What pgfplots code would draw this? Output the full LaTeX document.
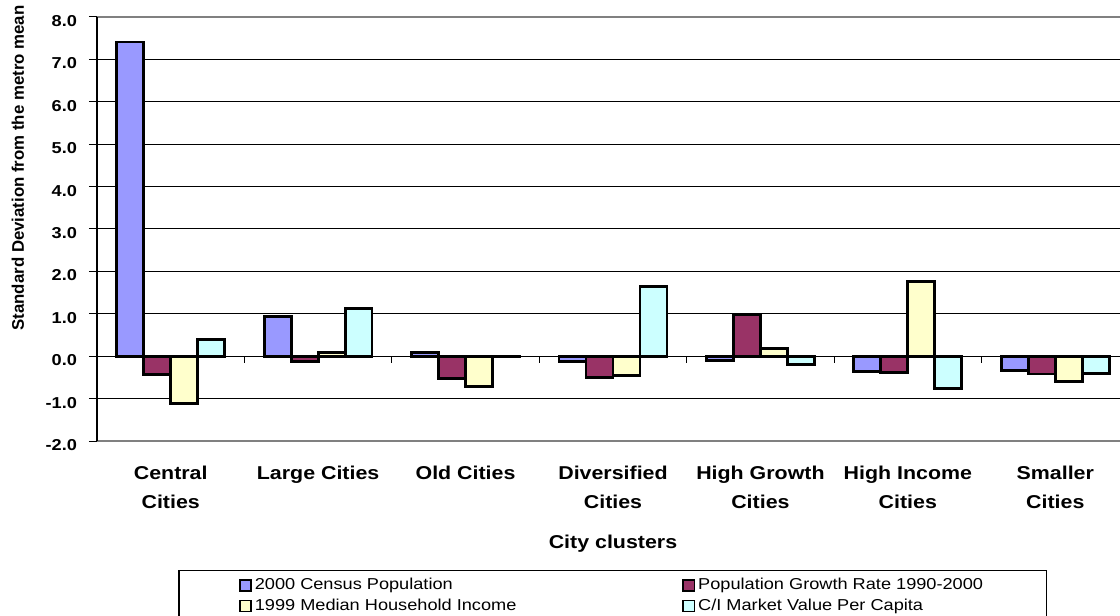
\documentclass[border=0pt]{standalone}
\usepackage{fontspec}
\setmainfont{Liberation Sans}[FakeStretch=1.15]
\usepackage{pgfplots}
\pgfplotsset{compat=1.18}

\definecolor{cpop}{HTML}{9999FF}
\definecolor{cgrow}{HTML}{993366}
\definecolor{cinc}{HTML}{FFFFCC}
\definecolor{cmkt}{HTML}{CCFFFF}
\definecolor{cframe}{HTML}{808080}

\begin{document}
\begin{tikzpicture}
\begin{axis}[
  at={(0,0)}, anchor=south west,
  scale only axis,
  width=516pt, height=212pt,
  ybar=0pt,
  bar width=0.183,
  xmin=-0.5, xmax=6.5,
  ymin=-2, ymax=8,
  xtick={0,...,6},
  xticklabels={{Central\\Cities}, {Large Cities}, {Old Cities}, {Diversified\\Cities}, {High Growth\\Cities}, {High Income\\Cities}, {Smaller\\Cities}},
  xtick style={draw=none},
  xticklabel style={align=center, anchor=north, yshift=-5pt, font=\bfseries\fontsize{9.3}{14.5}\selectfont},
  ytick={-2,...,8},
  yticklabel style={font=\bfseries\fontsize{7.9}{9}\selectfont, yshift=-2pt, xshift=-2.5pt},
  /pgf/number format/assume math mode=true,
  /pgf/number format/.cd, fixed, fixed zerofill, precision=1, /pgfplots/.cd,
  tick align=outside,
  major tick length=4pt,
  ytick style={black, line width=0.5pt},
  ymajorgrids,
  grid style={black, line width=0.5pt},
  separate axis lines,
  x axis line style={cframe, line width=1.2pt},
  y axis line style={black, line width=0.6pt},
  ylabel={\scalebox{0.87}[1]{Standard Deviation from the metro mean}},
  ylabel style={at={(axis description cs:-0.0766,0.644)}, anchor=center, font=\bfseries\fontsize{8.4}{10}\selectfont},
  xlabel={City clusters},
  xlabel style={at={(axis description cs:0.5,-0.242)}, anchor=center, font=\bfseries\fontsize{9.3}{11}\selectfont},
  legend columns=2,
  legend cell align=left,
  legend image code/.code={\draw[#1, line width=0.8pt] (0pt,-2.8pt) rectangle (5.6pt,2.8pt);},
  legend style={
    at={(axis description cs:0.0789,-0.3042)}, anchor=north west,
    draw=black, line width=0.6pt,
    inner xsep=30pt, inner ysep=3pt,
    font=\fontsize{7.9}{9}\selectfont,
    nodes={inner xsep=1.5pt, inner ysep=0.8pt},
    row sep=1.5pt,
    /tikz/every even column/.append style={column sep=81.5pt},
  },
  every axis plot/.append style={draw=black, line width=1.4pt},
]
\addplot[fill=cpop] coordinates {(0,7.41) (1,0.94) (2,0.09) (3,-0.13) (4,-0.11) (5,-0.36) (6,-0.34)};
\addplot[fill=cgrow] coordinates {(0,-0.44) (1,-0.13) (2,-0.52) (3,-0.50) (4,0.98) (5,-0.39) (6,-0.42)};
\addplot[fill=cinc] coordinates {(0,-1.11) (1,0.09) (2,-0.71) (3,-0.45) (4,0.18) (5,1.76) (6,-0.60)};
\addplot[fill=cmkt] coordinates {(0,0.39) (1,1.13) (2,-0.02) (3,1.64) (4,-0.20) (5,-0.77) (6,-0.41)};
\legend{2000 Census Population, Population Growth Rate 1990-2000, 1999 Median Household Income, C/I Market Value Per Capita}
\draw[black, line width=0.6pt] (axis cs:-0.5,0) -- (axis cs:6.5,0);
\pgfplotsinvokeforeach{0.5,1.5,2.5,3.5,4.5,5.5}{
  \draw[black, line width=0.5pt] (axis cs:#1,0) -- ++(0pt,-3.5pt);
}
\end{axis}
\pgfresetboundingbox
\useasboundingbox (-48.5pt,-87.5pt) rectangle (511.5pt,220.5pt);
\end{tikzpicture}
\end{document}
